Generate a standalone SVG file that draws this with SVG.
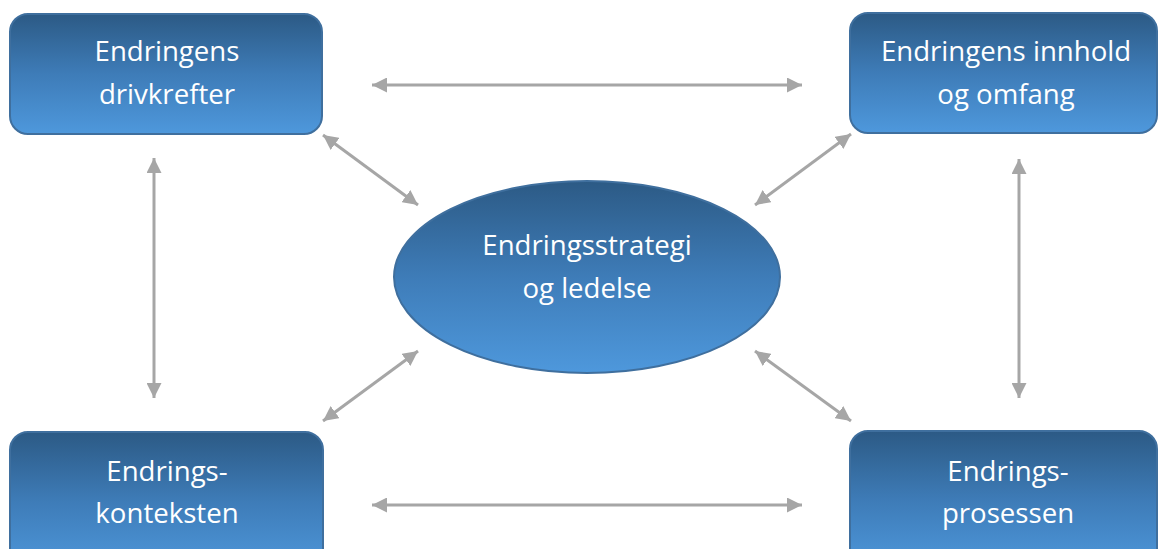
<svg xmlns="http://www.w3.org/2000/svg" width="1158" height="549" viewBox="0 0 1158 549">
<defs>
<linearGradient id="g" x1="0" y1="0" x2="0" y2="1">
<stop offset="0" stop-color="#2C5A85"/>
<stop offset="0.5" stop-color="#3E7CB8"/>
<stop offset="1" stop-color="#4E98DC"/>
</linearGradient>
<marker id="ah" viewBox="0 0 10 10" refX="10" refY="5" markerWidth="5" markerHeight="5" orient="auto-start-reverse" markerUnits="strokeWidth">
<path d="M0,0 L10,5 L0,10 Z" fill="#A6A6A6"/>
</marker>
</defs>
<style>
.box{fill:url(#g);stroke:#3F6F9E;stroke-width:2}
.t{font-family:"Open Sans","Liberation Sans",Arial,sans-serif;font-size:27.6px;fill:#FFFFFF;text-anchor:middle}
.c{stroke:#A6A6A6;stroke-width:3;fill:none;marker-start:url(#ah);marker-end:url(#ah)}
</style>
<rect width="1158" height="549" fill="#FFFFFF"/>
<g id="connectors">
<line class="c" x1="372" y1="85" x2="802" y2="85"/>
<line class="c" x1="372" y1="505" x2="802" y2="505"/>
<line class="c" x1="154" y1="158" x2="154" y2="398"/>
<line class="c" x1="1019" y1="159" x2="1019" y2="398"/>
<line class="c" x1="323" y1="135" x2="418" y2="205"/>
<line class="c" x1="851" y1="134" x2="755" y2="205"/>
<line class="c" x1="418" y1="351" x2="323" y2="421"/>
<line class="c" x1="755" y1="351" x2="851" y2="421"/>
</g>
<g id="n-drivkrefter">
<rect class="box" x="10" y="14" width="312" height="120" rx="18"/>
<text class="t" x="167" y="61">Endringens</text>
<text class="t" x="167" y="104">drivkrefter</text>
</g>
<g id="n-innhold">
<rect class="box" x="850" y="13" width="307" height="120" rx="18"/>
<text class="t" x="1006" y="61">Endringens innhold</text>
<text class="t" x="1006" y="104">og omfang</text>
</g>
<g id="n-strategi">
<ellipse class="box" cx="587" cy="277" rx="193" ry="96"/>
<text class="t" x="587" y="255">Endringsstrategi</text>
<text class="t" x="587" y="298">og ledelse</text>
</g>
<g id="n-konteksten">
<rect class="box" x="10" y="432" width="313" height="140" rx="18"/>
<text class="t" x="167" y="481">Endrings-</text>
<text class="t" x="167" y="523">konteksten</text>
</g>
<g id="n-prosessen">
<rect class="box" x="850" y="431" width="307" height="140" rx="18"/>
<text class="t" x="1008" y="481">Endrings-</text>
<text class="t" x="1008" y="523">prosessen</text>
</g>
</svg>
